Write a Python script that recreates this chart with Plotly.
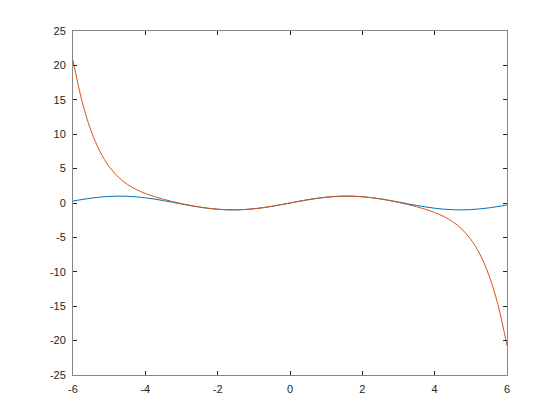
import plotly.graph_objects as go

x_vals = [-6, -5.75, -5.5, -5.25, -5, -4.75, -4.5, -4.25, -4, -3.75, -3.5, -3.25, -3,
          -2.75, -2.5, -2.25, -2, -1.75, -1.5, -1.25, -1, -0.75, -0.5, -0.25, 0,
          0.25, 0.5, 0.75, 1, 1.25, 1.5, 1.75, 2, 2.25, 2.5, 2.75, 3, 3.25, 3.5,
          3.75, 4, 4.25, 4.5, 4.75, 5, 5.25, 5.5, 5.75, 6]

sin_pos = [0.247, 0.479, 0.682, 0.841, 0.949, 0.997, 0.984, 0.909, 0.778, 0.598,
           0.382, 0.141, -0.108, -0.351, -0.572, -0.757, -0.895, -0.978, -0.999,
           -0.959, -0.859, -0.706, -0.510, -0.279]
sin_vals = [-v for v in reversed(sin_pos)] + [0.0] + sin_pos

taylor_pos = [0.2474, 0.4794, 0.6816, 0.8415, 0.9490, 0.9974, 0.9836, 0.9079,
              0.7742, 0.5885, 0.3585, 0.0911, -0.2097, -0.5456, -0.9284, -1.3841,
              -1.9588, -2.7242, -3.7864, -5.2927, -7.442, -10.4958, -14.7887, -20.7429]
taylor_vals = [-v for v in reversed(taylor_pos)] + [0.0] + taylor_pos

x_ticks = [-6, -4, -2, 0, 2, 4, 6]
x_labels = ["-6", "-4", "-2", "0", "2", "4", "6"]
y_ticks = [-25, -20, -15, -10, -5, 0, 5, 10, 15, 20, 25]
y_labels = ["-25", "-20", "-15", "-10", "-5", "0", "5", "10", "15", "20", "25"]

fig = go.Figure()
fig.add_trace(go.Scatter(x=x_vals, y=sin_vals, mode="lines",
                         line=dict(color="#0072BD", width=1, shape="spline"),
                         showlegend=False))
fig.add_trace(go.Scatter(x=x_vals, y=taylor_vals, mode="lines",
                         line=dict(color="#D95319", width=1, shape="spline"),
                         showlegend=False))

axis_common = dict(showgrid=False, zeroline=False, showline=True, linecolor="#868686",
                   linewidth=1, mirror="ticks", ticks="inside", ticklen=4,
                   tickcolor="#262626", tickwidth=1, ticklabelstandoff=4,
                   tickfont=dict(family="Liberation Sans, Arial, sans-serif",
                                 size=11, color="#262626"))

fig.update_xaxes(range=[-6, 6], tickvals=x_ticks, ticktext=x_labels, **axis_common)
fig.update_yaxes(range=[-25, 25], tickvals=y_ticks, ticktext=y_labels, **axis_common)

fig.update_layout(width=560, height=420, margin=dict(l=65, r=61, t=23, b=53),
                  plot_bgcolor="white", paper_bgcolor="white")

fig.write_html("out.html")
